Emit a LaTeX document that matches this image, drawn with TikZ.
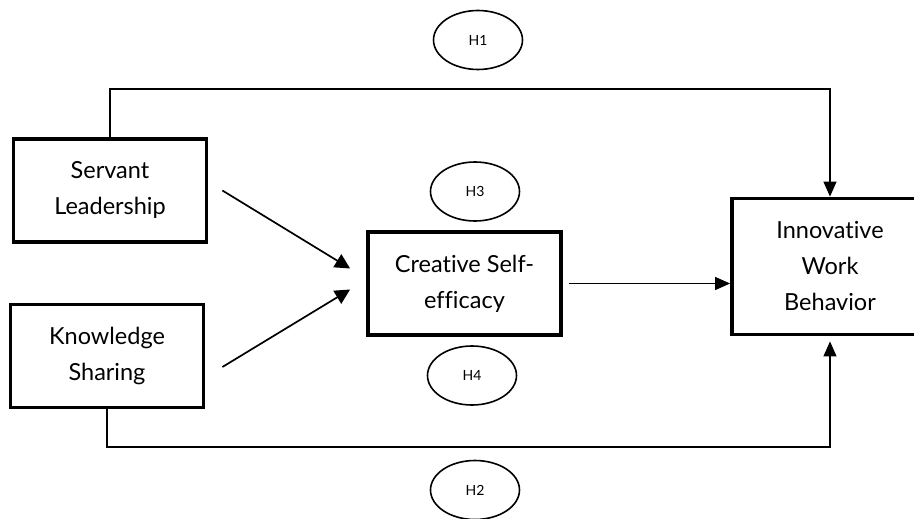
\documentclass[tikz,border=0pt]{standalone}
\usepackage{fontspec}
\setmainfont{Lato}[Ligatures=NoCommon]
\usepackage{tikz}
\usetikzlibrary{arrows.meta, positioning, shapes.geometric, calc}

\begin{document}
\begin{tikzpicture}[
      x=1pt, y=1pt,
      var/.style={rectangle, draw=black, line width=3.8pt, fill=white,
                  minimum width=193pt, minimum height=103pt, align=center,
                  font=\fontsize{23.5}{36}\selectfont},
      hyp/.style={ellipse, draw=black, line width=1.6pt, minimum width=89pt,
                  minimum height=59pt, inner sep=0pt, font=\fontsize{14}{16}\selectfont},
      arr/.style={-{Triangle[length=15pt, width=15pt]}, line width=1.7pt},
      link/.style={-{Triangle[length=15pt, width=13pt]}, line width=1.2pt}
    ]
      \useasboundingbox (0,0) rectangle (914,-519);
      % variables
      \node[var] (servant) at (110,-190.5) {Servant\\Leadership};
      \node[var] (know) at (107,-356) {Knowledge\\Sharing};
      \node[var] (creative) at (464.5,-283.5) {Creative Self-\\efficacy};
      \node[var, minimum width=196pt, minimum height=136pt] (innov) at (830,-266.5)
            {Innovative\\Work\\Behavior};
      % hypotheses
      \node[hyp] (h1) at (478,-40) {H1};
      \node[hyp] (h3) at (475,-191.5) {H3};
      \node[hyp] (h4) at (472,-375.5) {H4};
      \node[hyp] (h2) at (475,-490) {H2};
      \coordinate (top) at (0,-89);
      \coordinate (bot) at (0,-447);
      % paths
      \draw[link] (servant.north) -- (servant.north |- top) -| (innov.north);
      \draw[link, shorten >=5pt] (know.south) -- (know.south |- bot) -| (innov.south);
      \draw[arr] ([xshift=14pt]servant.east) -- ([xshift=-16pt, yshift=15pt]creative.west);
      \draw[arr] ([xshift=17pt, yshift=-11pt]know.east) -- ([xshift=-16pt, yshift=-6pt]creative.west);
      \draw[link] ([xshift=6pt]creative.east) -- (creative.east -| innov.west);
    \end{tikzpicture}
\end{document}
